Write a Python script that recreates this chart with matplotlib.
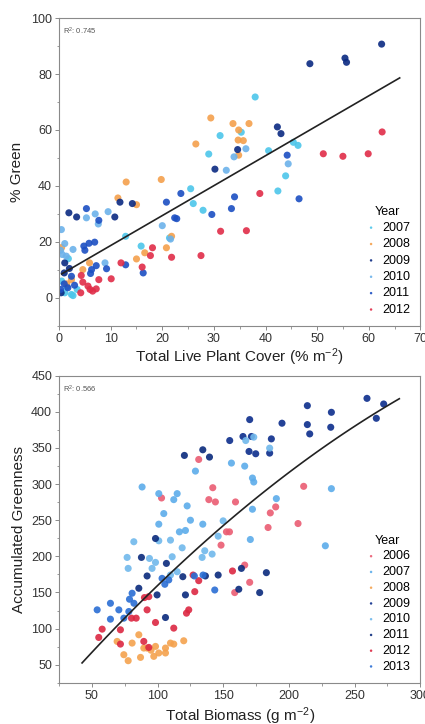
import numpy as np
import matplotlib
matplotlib.use("Agg")
import matplotlib.pyplot as plt
from matplotlib.ticker import MultipleLocator

plt.rcParams['font.family'] = ['Liberation Sans', 'DejaVu Sans']
plt.rcParams['mathtext.default'] = 'regular'

# ---- top panel: % green vs live plant cover ----
top_years = ['2007', '2008', '2009', '2010', '2011', '2012']
top_colors = ['#4cc6ea', '#f4a04c', '#0b2a82', '#6cb2ea', '#1c4fc2', '#e02c48']

cover_2007 = [38.0, 31.2, 29.0, 35.3, 40.6, 46.3, 45.4, 43.9, 42.4, 25.5, 26.0, 27.9, 12.9, 21.4, 15.9, 1.1, 2.4, 1.5, 3.5, 0.5, 1.8, 2.7]
green_2007 = [71.8, 58.0, 51.4, 59.2, 52.6, 54.5, 55.6, 43.6, 38.2, 39.0, 33.7, 31.3, 22.0, 21.4, 18.5, 1.8, 1.2, 4.0, 3.0, 6.0, 14.0, 0.8]
cover_2008 = [29.4, 33.7, 36.8, 34.8, 34.7, 35.7, 26.5, 19.8, 13.0, 11.4, 15.0, 20.8, 21.8, 15.0, 16.6, 34.8, 4.6, 5.9, 2.4, 1.5, 0.5]
green_2008 = [64.3, 62.3, 62.3, 60.0, 56.4, 56.2, 55.0, 42.3, 41.4, 35.7, 33.3, 17.9, 22.0, 13.9, 16.1, 51.0, 10.1, 12.5, 6.5, 5.0, 18.0]
cover_2009 = [62.5, 48.6, 55.4, 55.7, 42.3, 43.0, 34.6, 30.2, 1.9, 3.4, 10.8, 14.2, 11.8, 1.1, 1.0, 0.4, 2.0]
green_2009 = [90.7, 83.7, 85.7, 84.2, 61.1, 58.7, 53.0, 46.0, 30.4, 28.9, 28.9, 33.7, 34.2, 12.5, 8.9, 1.8, 10.5]
cover_2010 = [0.45, 1.1, 2.7, 5.3, 7.0, 7.6, 9.5, 32.4, 33.9, 36.2, 44.4, 20.0, 8.9, 1.4, 0.3, 0.6, 21.6]
green_2010 = [24.4, 19.4, 17.3, 28.6, 30.0, 26.4, 30.8, 45.6, 50.4, 53.3, 47.9, 25.8, 12.5, 14.9, 17.0, 15.5, 21.0]
cover_2011 = [20.8, 23.6, 22.4, 22.8, 34.0, 33.4, 29.6, 46.5, 44.2, 5.3, 7.7, 4.8, 5.8, 6.9, 5.0, 7.2, 6.3, 12.9, 16.3, 9.2, 2.4, 1.7, 1.0, 6.1, 0.3, 3.0]
green_2011 = [34.2, 37.3, 28.6, 28.3, 36.1, 31.9, 29.8, 35.4, 51.0, 31.9, 27.7, 18.5, 19.5, 19.9, 17.0, 11.5, 10.1, 11.8, 8.9, 10.4, 7.7, 3.6, 5.0, 8.7, 3.0, 4.5]
cover_2012 = [62.6, 51.2, 55.0, 59.9, 38.9, 31.3, 36.3, 27.5, 21.8, 18.1, 17.7, 16.1, 12.0, 10.1, 7.7, 4.6, 4.2, 5.6, 6.5, 7.2, 6.0, 4.3]
green_2012 = [59.3, 51.5, 50.6, 51.5, 37.3, 23.8, 24.0, 15.1, 14.5, 17.9, 15.1, 11.0, 12.5, 6.8, 6.5, 5.6, 1.8, 4.2, 2.4, 3.2, 3.0, 8.0]

top_x = [cover_2007, cover_2008, cover_2009, cover_2010, cover_2011, cover_2012]
top_y = [green_2007, green_2008, green_2009, green_2010, green_2011, green_2012]
top_fit = (8.0, 1.07)          # intercept, slope
top_fit_range = (0.5, 66.0)
top_r2 = '0.745'

# ---- bottom panel: accumulated greenness vs biomass ----
bot_years = ['2006', '2007', '2008', '2009', '2010', '2011', '2012', '2013']
bot_colors = ['#ea5c72', '#5cacea', '#f4a24e', '#0c2d8c', '#70b8ec', '#0a2a7c', '#dc2842', '#2a6ed4']

bio_2006 = [131.3, 142.0, 103.0, 139.0, 144.0, 159.3, 154.7, 152.4, 148.3, 211.2, 189.9, 185.8, 184.1, 206.9, 166.3, 170.1, 158.7]
acc_2006 = [334.1, 295.0, 280.8, 278.5, 275.3, 275.3, 233.9, 233.9, 215.5, 296.9, 268.4, 260.1, 239.9, 245.4, 187.9, 164.0, 149.8]
bio_2007 = [88.2, 100.9, 114.9, 112.3, 122.5, 104.7, 125.0, 134.4, 116.6, 121.2, 100.9, 128.8, 156.2, 166.3, 172.2, 173.2, 232.3, 190.4, 172.2, 170.6, 227.7]
acc_2007 = [296.0, 286.8, 286.8, 278.5, 269.8, 259.2, 250.0, 244.5, 233.9, 235.8, 244.5, 318.0, 329.1, 324.9, 308.4, 302.9, 293.7, 279.9, 265.2, 223.3, 214.6]
bio_2008 = [69.2, 85.7, 80.6, 74.3, 77.6, 87.0, 92.0, 98.4, 100.9, 106.0, 109.8, 112.3, 119.9, 97.1, 106.0, 89.5, 95.0]
acc_2008 = [82.2, 91.4, 79.9, 63.8, 55.5, 60.1, 73.0, 75.3, 66.2, 73.0, 79.9, 78.5, 83.1, 61.5, 66.2, 73.0, 70.0]
bio_2009 = [259.4, 272.1, 266.5, 214.0, 232.3, 231.8, 214.0, 215.8, 194.7, 170.1, 154.9, 165.0, 171.4, 186.6, 169.6, 174.7, 185.3]
acc_2009 = [418.7, 410.9, 391.1, 408.6, 399.4, 378.7, 382.4, 369.5, 384.3, 389.3, 360.3, 365.9, 365.9, 362.6, 345.2, 342.0, 342.9]
bio_2010 = [81.9, 100.9, 109.8, 118.7, 76.8, 77.6, 93.8, 98.4, 111.1, 109.8, 114.9, 135.9, 133.9, 141.5, 149.9, 146.1, 95.8, 167.1, 173.2, 185.3]
acc_2010 = [220.2, 221.5, 222.4, 211.8, 198.5, 183.3, 197.1, 191.6, 199.4, 174.1, 178.7, 207.7, 198.5, 203.1, 249.1, 227.9, 183.3, 360.3, 365.0, 349.8]
bio_2011 = [134.4, 139.5, 120.4, 98.4, 87.7, 92.0, 106.7, 119.2, 121.2, 106.0, 85.7, 99.6, 146.1, 161.8, 163.8, 136.4, 182.8, 177.7]
acc_2011 = [347.5, 337.4, 339.7, 224.7, 198.5, 172.8, 190.2, 171.8, 146.6, 115.3, 155.8, 146.6, 174.1, 154.4, 183.3, 172.8, 177.4, 149.8]
bio_2012 = [127.0, 131.3, 157.0, 128.3, 98.4, 112.3, 122.0, 123.7, 80.1, 83.7, 93.3, 90.0, 92.0, 57.8, 55.2, 71.7, 71.7, 89.5, 93.3]
acc_2012 = [174.1, 166.3, 179.7, 151.1, 108.4, 100.6, 121.3, 125.9, 114.4, 114.4, 144.2, 142.9, 125.9, 99.2, 87.7, 98.3, 78.5, 82.2, 73.9]
bio_2013 = [54.0, 64.1, 70.5, 64.1, 74.3, 78.6, 80.6, 78.1, 103.4, 108.5, 105.5, 128.0, 134.6, 143.5, 82.0]
acc_2013 = [125.9, 135.0, 125.9, 113.0, 114.4, 140.6, 148.9, 123.6, 169.5, 167.3, 161.3, 172.8, 174.1, 153.4, 135.0]

bot_x = [bio_2006, bio_2007, bio_2008, bio_2009, bio_2010, bio_2011, bio_2012, bio_2013]
bot_y = [acc_2006, acc_2007, acc_2008, acc_2009, acc_2010, acc_2011, acc_2012, acc_2013]
bot_fit = (-34.9, 2.135, -0.0019)   # quadratic coefficients c0, c1, c2
bot_fit_range = (42.5, 284.0)
bot_r2 = '0.566'

fig = plt.figure(figsize=(4.25, 7.24), dpi=100)
ax1 = fig.add_axes([0.139, 0.550, 0.850, 0.425])
ax2 = fig.add_axes([0.139, 0.057, 0.850, 0.424])


def style_axes(ax):
    for s in ax.spines.values():
        s.set_color('#8a8a8a')
        s.set_linewidth(0.8)
    ax.tick_params(which='major', direction='out', length=3, width=0.7,
                   color='#8a8a8a', labelsize=9, labelcolor='#333333', pad=2)
    ax.tick_params(which='minor', direction='out', length=1.8, width=0.6, color='#8a8a8a')


# top panel
for xs, ys, yr, c in zip(top_x, top_y, top_years, top_colors):
    ax1.scatter(xs, ys, s=26, color=c, alpha=0.9, edgecolors='none', label=yr)
fx = np.linspace(*top_fit_range, 50)
ax1.plot(fx, top_fit[0] + top_fit[1] * fx, color='#222222', lw=1.2)
ax1.set_xlim(0, 70)
ax1.set_ylim(-10, 100)
ax1.xaxis.set_major_locator(MultipleLocator(10))
ax1.xaxis.set_minor_locator(MultipleLocator(5))
ax1.yaxis.set_major_locator(MultipleLocator(20))
ax1.yaxis.set_minor_locator(MultipleLocator(10))
ax1.set_xlabel('Total Live Plant Cover (% m$^{-2}$)', fontsize=11, color='#222222', labelpad=1)
ax1.set_ylabel('% Green', fontsize=11, color='#222222', labelpad=5)
ax1.text(0.012, 0.975, 'R$^{2}$: ' + top_r2, transform=ax1.transAxes, fontsize=5.5,
         color='#555555', va='top', ha='left')
style_axes(ax1)
ax1.legend(title='Year', loc='lower right', frameon=False, fontsize=9, title_fontsize=9,
           markerscale=0.35, handletextpad=0.3, labelspacing=0.35, borderaxespad=0.4,
           handlelength=1.2)

# bottom panel
for xs, ys, yr, c in zip(bot_x, bot_y, bot_years, bot_colors):
    ax2.scatter(xs, ys, s=26, color=c, alpha=0.9, edgecolors='none', label=yr)
bx = np.linspace(*bot_fit_range, 100)
ax2.plot(bx, bot_fit[0] + bot_fit[1] * bx + bot_fit[2] * bx ** 2, color='#222222', lw=1.2)
ax2.set_xlim(25, 300)
ax2.set_ylim(25, 450)
ax2.xaxis.set_major_locator(MultipleLocator(50))
ax2.xaxis.set_minor_locator(MultipleLocator(25))
ax2.yaxis.set_major_locator(MultipleLocator(50))
ax2.yaxis.set_minor_locator(MultipleLocator(25))
ax2.set_xlabel('Total Biomass (g m$^{-2}$)', fontsize=11, color='#222222', labelpad=3)
ax2.set_ylabel('Accumulated Greenness', fontsize=11, color='#222222', labelpad=4)
ax2.text(0.012, 0.975, 'R$^{2}$: ' + bot_r2, transform=ax2.transAxes, fontsize=5.5,
         color='#555555', va='top', ha='left')
style_axes(ax2)
ax2.legend(title='Year', loc='lower right', frameon=False, fontsize=9, title_fontsize=9,
           markerscale=0.35, handletextpad=0.3, labelspacing=0.3, borderaxespad=0.4,
           handlelength=1.2)

fig.savefig('out.png', dpi=100)
